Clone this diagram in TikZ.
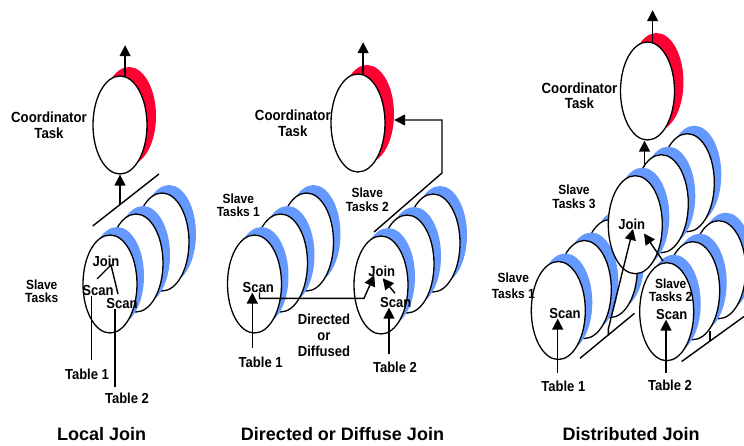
\documentclass[tikz,border=0pt]{standalone}
\usepackage{fontspec}
\setmainfont{Liberation Sans}
\newfontfamily\narrowsans[FakeStretch=0.9]{Liberation Sans}
\usetikzlibrary{shapes.geometric,arrows.meta}
\definecolor{slaveblue}{RGB}{102,153,255}
\definecolor{coordred}{RGB}{255,0,51}

\newcommand\labfont{\narrowsans\bfseries\fontsize{14.5}{15}\selectfont}
\newcommand\coordfont{\narrowsans\bfseries\fontsize{14.7}{15.5}\selectfont}
\newcommand\slavefont{\narrowsans\bfseries\fontsize{13.3}{13.5}\selectfont}
\newcommand\headfont{\bfseries\fontsize{18}{21}\selectfont}

\tikzset{
  disk/.style={ellipse, draw=black, line width=1.3pt, fill=white,
    minimum width=54pt, minimum height=98pt, inner sep=0pt},
  rim/.style={ellipse, draw=none, minimum width=54pt, minimum height=98pt, inner sep=0pt},
  lbl/.style={font=\labfont, align=center, inner sep=0pt},
  coordlbl/.style={font=\coordfont, align=center, inner sep=0pt},
  slavelbl/.style={font=\slavefont, align=center, inner sep=0pt},
  ttl/.style={font=\headfont, inner sep=0pt},
  ln/.style={line width=1.4pt},
  arr/.style={line width=1.4pt, -{Triangle[width=11pt,length=11pt]}}
}

% one task disk with its blue rim behind it: name, x, y
\newcommand\slavedisk[3]{%
  \node[rim, fill=slaveblue] (#1r) at ({#2+7},{#3-8}) {};
  \node[disk] (#1) at ({#2},{#3}) {};
}
% a stack of three task disks receding up and to the right: prefix, front x, front y
\newcommand\slavestack[3]{%
  \slavedisk{#1c}{#2+52}{#3-42}
  \slavedisk{#1b}{#2+26}{#3-21}
  \slavedisk{#1a}{#2}{#3}
}
% coordinator disk with its red rim: name, x, y
\newcommand\coorddisk[3]{%
  \node[rim, fill=coordred] (#1r) at ({#2+9},{#3-9}) {};
  \node[disk] (#1) at ({#2},{#3}) {};
}

\begin{document}
\begin{tikzpicture}[x=1pt,y=-1pt]
\useasboundingbox (0,0) rectangle (744,446);
\clip (0,0) rectangle (744,446);

% ---------------- Local join ----------------
\coorddisk{cL}{120}{125}
\node[coordlbl] (cLt) at (49,125) {Coordinator\\Task};
\path (cL.84) ++(0,-31) coordinate (outL);
\draw[arr] (cL.84) -- (outL);

\coordinate (slL1) at (92.7,226);
\coordinate (slL2) at (159,174);
\draw[ln] (slL1) -- (slL2);
\coordinate (inL) at (120,205);
\draw[arr] (inL) -- (cL.south);

\slavestack{L}{110}{284}
\node[lbl] (jL) at (106,261) {Join};
\node[lbl] (s1L) at (98,291) {Scan};
\node[lbl] (s2L) at (122,304) {Scan};
\node[slavelbl] (stL) at (41.7,291) {Slave\\Tasks};
\node[lbl] (t1L) at (87,374) {Table 1};
\node[lbl] (t2L) at (127,398) {Table 2};

\coordinate (apL) at (111,265);
\coordinate (j1L) at (97,279);
\coordinate (j2L) at (118,294);
\draw[ln] (j1L) -- (apL) -- (j2L);
\coordinate (f1L) at (91.7,360);
\coordinate (f2L) at (115,387);
\draw[ln] (f1L) -- (f1L |- s1L.south);
\draw[ln] (f2L) -- (f2L |- s2L.south);

\node[ttl] (hL) at (101.7,434) {Local Join};

% ---------------- Directed or diffuse join ----------------
\coorddisk{cM}{358}{123}
\node[coordlbl] (cMt) at (292.8,123.4) {Coordinator\\Task};
\path (cM.84) ++(0,-32) coordinate (outM);
\draw[arr] (cM.84) -- (outM);

\slavestack{M}{254.5}{284}
\slavestack{N}{381}{285}

\coordinate (dM0) at (374,232);
\coordinate (dM1) at (442,173);
\coordinate (dM2) at (442,120);
\draw[arr] (dM0) -- (dM1) -- (dM2) -- (dM2 -| cMr.east);

\node[slavelbl] (st1M) at (238.3,205) {Slave\\Tasks 1};
\node[slavelbl] (st2M) at (367.3,199.7) {Slave\\Tasks 2};
\node[lbl] (s1M) at (258.3,287.3) {Scan};
\node[lbl] (jM) at (381.7,271.7) {Join};
\node[lbl] (s2M) at (395.7,302.3) {Scan};
\node[lbl] (t1M) at (260.7,362.3) {Table 1};
\node[lbl] (t2M) at (395,367.3) {Table 2};
\node[lbl, font=\narrowsans\bfseries\fontsize{14.5}{16}\selectfont] (ddM) at (324,335.3) {Directed\\or\\Diffused};

\coordinate (f1M) at (252.3,348.3);
\draw[arr] (f1M) -- (f1M |- s1M.south);
\coordinate (f2M) at (389,354);
\draw[arr] (f2M) -- (f2M |- s2M.south);

\coordinate (rM0) at (259.5,292.5);
\coordinate (rM1) at (259.5,298.3);
\coordinate (rM2) at (364,298.3);
\coordinate (rM3) at (374.3,275);
\draw[arr] (rM0) -- (rM1) -- (rM2) -- (rM3);

\coordinate (sjM0) at (395,293.3);
\coordinate (sjM1) at (382.7,278.3);
\draw[arr] (sjM0) -- (sjM1);

\node[ttl] (hM) at (342.5,434) {Directed or Diffuse Join};

% ---------------- Distributed join ----------------
\coorddisk{cR}{647.5}{91}
\node[coordlbl] (cRt) at (579.5,95.5) {Coordinator\\Task};
\path (cR.84) ++(0,-32) coordinate (outR);
\draw[arr] (cR.84) -- (outR);

\slavedisk{Pc}{687.3}{182.7}
\slavedisk{Pb}{661.3}{203.7}
\slavedisk{Qc}{610.3}{268.5}
\slavedisk{Qb}{584.3}{289.5}
\slavedisk{Pa}{635.3}{224.7}
\slavedisk{Qa}{558.3}{310.5}
\slavestack{S}{666.7}{311.7}

\coordinate (inR) at (644.5,166.7);
\draw[arr] (inR) -- (inR |- cR.south);

\coordinate (slR1) at (580,358.3);
\coordinate (slR2) at (634.5,313.3);
\draw[ln] (slR1) -- (slR2);
\coordinate (slR3) at (681.7,361.5);
\coordinate (slR4) at (744,316.5);
\draw[ln] (slR3) -- (slR4);
\coordinate (tkR1) at (710,331);
\coordinate (tkR2) at (710,341);
\draw[ln] (tkR1) -- (tkR2);

\node[slavelbl] (st3R) at (574,197) {Slave\\Tasks 3};
\node[lbl] (jR) at (631.7,224.5) {Join};
\node[slavelbl, font=\narrowsans\bfseries\fontsize{13.3}{15.5}\selectfont] (st1R) at (513.3,285.5) {Slave\\Tasks 1};
\node[lbl] (s1R) at (565,313.3) {Scan};
\node[slavelbl, font=\narrowsans\bfseries\fontsize{13.3}{13}\selectfont] (st2R) at (670.7,290.3) {Slave\\Tasks 2};
\node[lbl] (s2R) at (671.7,314.3) {Scan};
\node[lbl] (t1R) at (563.3,386) {Table 1};
\node[lbl] (t2R) at (670,385) {Table 2};

\coordinate (f1R) at (557.7,372.7);
\draw[arr] (f1R) -- (f1R |- s1R.south);
\coordinate (f2R) at (666,372.7);
\draw[arr] (f2R) -- (f2R |- s2R.south);

\coordinate (jR0) at (608.3,335.5);
\coordinate (jR1) at (608.3,329);
\coordinate (jR2) at (633,229);
\draw[arr] (jR0) -- (jR1) -- (jR2);
\coordinate (jR3) at (663,261);
\coordinate (jR4) at (644,233.5);
\draw[arr] (jR3) -- (jR4);

\node[ttl] (hR) at (631.2,434) {Distributed Join};
\end{tikzpicture}
\end{document}
